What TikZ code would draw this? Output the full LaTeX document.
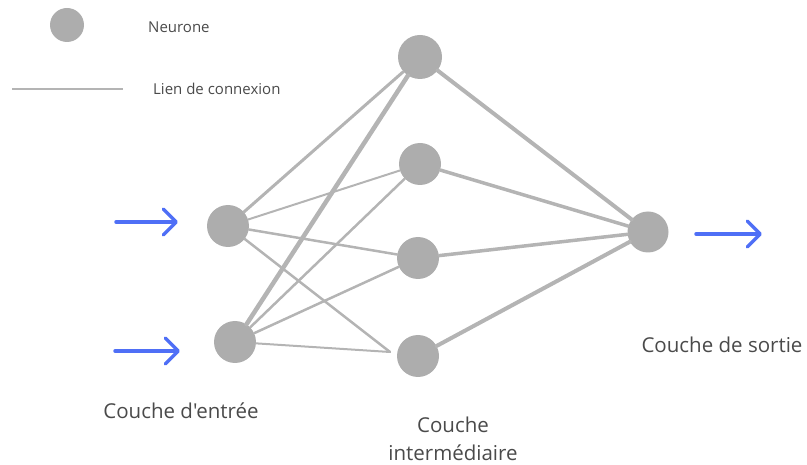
\documentclass[tikz,border=0pt]{standalone}
\usepackage{fontspec}
\setmainfont{Open Sans}[Ligatures=TeXOff]
\usetikzlibrary{arrows.meta}
\definecolor{neuron}{HTML}{ADADAD}
\definecolor{link}{HTML}{B4B4B4}
\definecolor{flow}{HTML}{4F6FF6}
\definecolor{label}{HTML}{4A4A4A}
\tikzset{
  neuron/.style={circle, fill=neuron, draw=none, inner sep=0pt, minimum size=#1},
  neuron/.default=42pt,
  linkline/.style={draw=link, line width=#1, line cap=round},
  linkline/.default=3pt,
  flowarrow/.style={draw=flow, line width=3.5pt, line cap=round,
    -{Straight Barb[length=13pt, width=26pt, line cap=round, line join=round]}},
  layertext/.style={text=label, font=\fontsize{20.5}{28}\selectfont, inner sep=0pt},
  legendtext/.style={text=label, font=\fontsize{15}{18}\selectfont, inner sep=0pt, anchor=west}
}
\begin{document}
\begin{tikzpicture}[x=1pt, y=-1pt]
\useasboundingbox (0,0) rectangle (807,465);

% legend
\node[neuron=34pt] (legN) at (67,25) {};
\node[legendtext] (legNt) at (148,27) {Neurone};
\coordinate (legA) at (12,89);
\coordinate (legB) at (123,89);
\draw[draw=link, line width=1.5pt] (legA) -- (legB);
\node[legendtext] (legLt) at (153,89) {Lien de connexion};

% neurons
\node[neuron] (I1) at (228,226) {};
\node[neuron] (I2) at (235,342) {};
\node[neuron=44pt] (H1) at (420,57) {};
\node[neuron] (H2) at (420,164) {};
\node[neuron] (H3) at (418,258) {};
\node[neuron] (H4) at (418,356) {};
\node[neuron=41pt] (O) at (648,232) {};
\coordinate (J) at (390,352);

% connections
\path[linkline=3pt] (I1) -- (H1);
\path[linkline=2pt] (I1) -- (H2);
\path[linkline=2.5pt] (I1) -- (H3);
\path[linkline=2.5pt] (I1) -- (J);
\path[linkline=4.5pt] (I2) -- (H1);
\path[linkline=2.5pt] (I2) -- (H2);
\path[linkline=2.5pt] (I2) -- (H3);
\path[linkline=2pt] (I2) -- (J);
\path[linkline=4pt] (H1) -- (O);
\path[linkline=3.5pt] (H2) -- (O);
\path[linkline=3.5pt] (H3) -- (O);
\path[linkline=4pt] (H4) -- (O);

% signal arrows
\coordinate (a1s) at (116,222);
\coordinate (a1e) at (178,222);
\coordinate (a2s) at (115,351);
\coordinate (a2e) at (180,351);
\coordinate (a3s) at (696,234);
\coordinate (a3e) at (762,234);
\draw[flowarrow] (a1s) -- (a1e);
\draw[flowarrow] (a2s) -- (a2e);
\draw[flowarrow] (a3s) -- (a3e);

% layer names
\node[layertext] (tin) at (181,411) {Couche d'entrée};
\node[layertext, align=center] (thid) at (453,439) {Couche\\intermédiaire};
\node[layertext] (tout) at (722,345) {Couche de sortie};
\end{tikzpicture}
\end{document}
